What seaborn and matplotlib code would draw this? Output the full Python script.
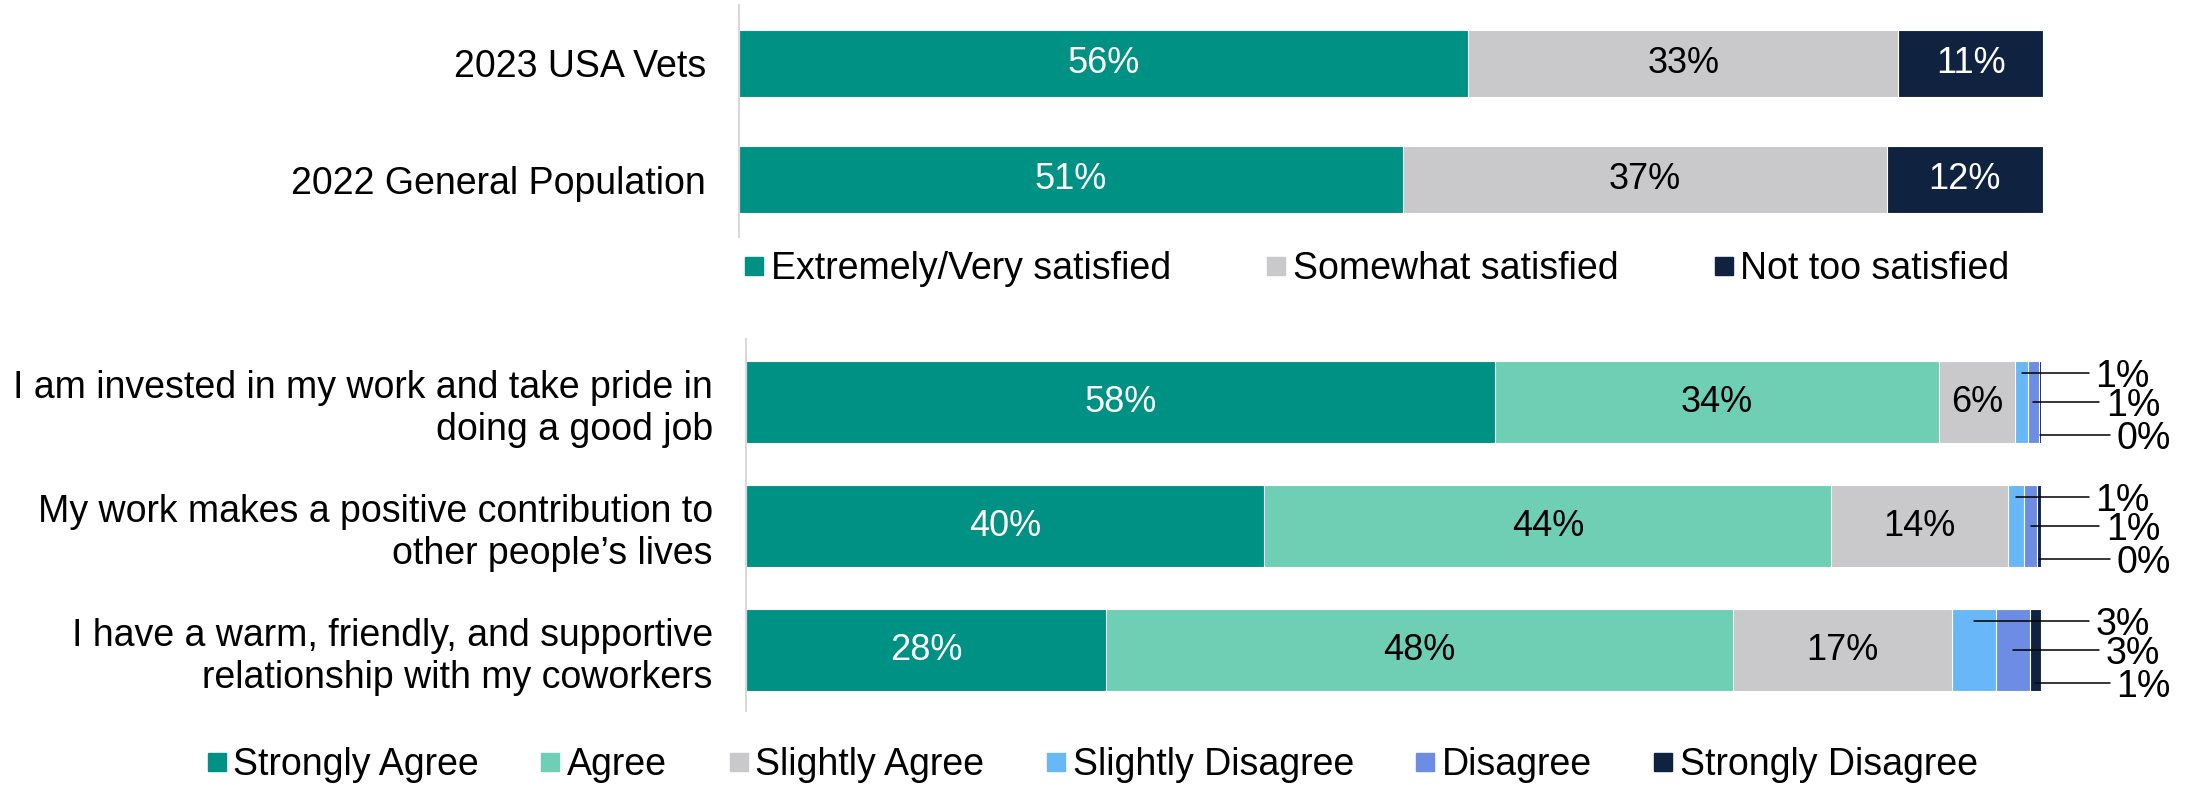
import matplotlib
matplotlib.use("Agg")
import numpy as np
import matplotlib.pyplot as plt
import seaborn as sns
from matplotlib.lines import Line2D

# --------------------------
# Data
# --------------------------
sat_groups = ["2023 USA Vets", "2022 General Population"]
sat_levels = ["Extremely/Very satisfied", "Somewhat satisfied", "Not too satisfied"]
sat_very = [55.9, 50.9]
sat_somewhat = [33.0, 37.1]
sat_not = [11.1, 12.0]

stmt_labels = [
    "I am invested in my work and take pride in\ndoing a good job",
    "My work makes a positive contribution to\nother people\u2019s lives",
    "I have a warm, friendly, and supportive\nrelationship with my coworkers",
]
agree_levels = ["Strongly Agree", "Agree", "Slightly Agree",
                "Slightly Disagree", "Disagree", "Strongly Disagree"]
strongly_agree = [57.8, 40.0, 27.8]
agree = [34.3, 43.8, 48.4]
slightly_agree = [5.9, 13.6, 16.9]
slightly_disagree = [1.0, 1.3, 3.4]
disagree = [0.8, 1.0, 2.6]
strongly_disagree = [0.2, 0.3, 0.9]

teal = "#009185"
mint = "#6ECFB4"
grey = "#C9C8CB"
sky = "#68B8F8"
periwinkle = "#6C8DE3"
navy = "#0F2341"

sns.set_style("white")
plt.rcParams["font.family"] = ["Liberation Sans", "DejaVu Sans"]
plt.rcParams["text.color"] = "black"
plt.rcParams["ytick.labelcolor"] = "black"

FS = 27      # tick labels, legends, callouts
FS_IN = 26   # labels inside bars


def stacked(ax, cats, series, colors, width):
    vals = np.array(series)
    cum = np.cumsum(vals, axis=0)
    # draw longest cumulative first so shorter segments sit on top
    for i in reversed(range(len(series))):
        sns.barplot(x=cum[i], y=cats, color=colors[i], width=width,
                    saturation=1, errorbar=None, orient="h", ax=ax,
                    edgecolor="white", linewidth=0.8)
    return vals, cum


def style_axis(ax, ylim):
    ax.set_xlim(0, 100)
    ax.set_ylim(*ylim)
    ax.set_xlabel("")
    ax.set_ylabel("")
    ax.set_xticks([])
    for s in ["top", "right", "bottom"]:
        ax.spines[s].set_visible(False)
    ax.spines["left"].set_color("#D9D9D9")
    ax.spines["left"].set_linewidth(1.5)
    ax.tick_params(axis="y", length=0, pad=24, labelsize=FS, labelcolor="black")
    for t in ax.get_yticklabels():
        t.set_horizontalalignment("right")


fig = plt.figure(figsize=(21.88, 7.85), dpi=100)

# --------------------------
# Top: satisfaction
# --------------------------
ax1 = fig.add_axes([0.3378, 0.698, 0.596, 0.2956])
sat_colors = [teal, grey, navy]
vals, cum = stacked(ax1, sat_groups, [sat_very, sat_somewhat, sat_not], sat_colors, 0.575)
style_axis(ax1, (1.49, -0.50))
for i in range(vals.shape[0]):
    for j in range(vals.shape[1]):
        c = "white" if sat_colors[i] in (teal, navy) else "black"
        ax1.text(cum[i][j] - vals[i][j] / 2, j, f"{vals[i][j]:.0f}%",
                 ha="center", va="center", fontsize=FS_IN, color=c)

h1 = [Line2D([], [], marker="s", linestyle="none", markersize=13,
             markerfacecolor=c, markeredgecolor=c) for c in sat_colors]
fig.legend(h1, sat_levels, loc="center", bbox_to_anchor=(0.629, 0.657),
           ncol=3, frameon=False, fontsize=FS, handlelength=0.6,
           handletextpad=0.15, columnspacing=2.5)

# --------------------------
# Bottom: agreement
# --------------------------
ax2 = fig.add_axes([0.341, 0.0943, 0.5919, 0.4739])
agree_colors = [teal, mint, grey, sky, periwinkle, navy]
series = [strongly_agree, agree, slightly_agree, slightly_disagree, disagree, strongly_disagree]
vals, cum = stacked(ax2, stmt_labels, series, agree_colors, 0.66)
style_axis(ax2, (2.49, -0.51))

dy = [-0.235, 0.0, 0.265]
tx = [104.2, 105.0, 105.8]
for i in range(vals.shape[0]):
    for j in range(vals.shape[1]):
        mid = cum[i][j] - vals[i][j] / 2
        label = f"{vals[i][j]:.0f}%"
        if i < 3:
            c = "white" if agree_colors[i] == teal else "black"
            ax2.text(mid, j, label, ha="center", va="center", fontsize=FS_IN, color=c)
        else:
            k = i - 3
            ax2.plot([mid, tx[k] - 0.5], [j + dy[k], j + dy[k]], color="black",
                     linewidth=1.1, clip_on=False)
            ax2.text(tx[k], j + dy[k] + 0.03, label, ha="left", va="center",
                     fontsize=FS, color="black", clip_on=False)

h2 = [Line2D([], [], marker="s", linestyle="none", markersize=13,
             markerfacecolor=c, markeredgecolor=c) for c in agree_colors]
fig.legend(h2, agree_levels, loc="center", bbox_to_anchor=(0.499, 0.0255),
           ncol=6, frameon=False, fontsize=FS, handlelength=0.6,
           handletextpad=0.15, columnspacing=1.6)

fig.savefig("out.png", dpi=100)
